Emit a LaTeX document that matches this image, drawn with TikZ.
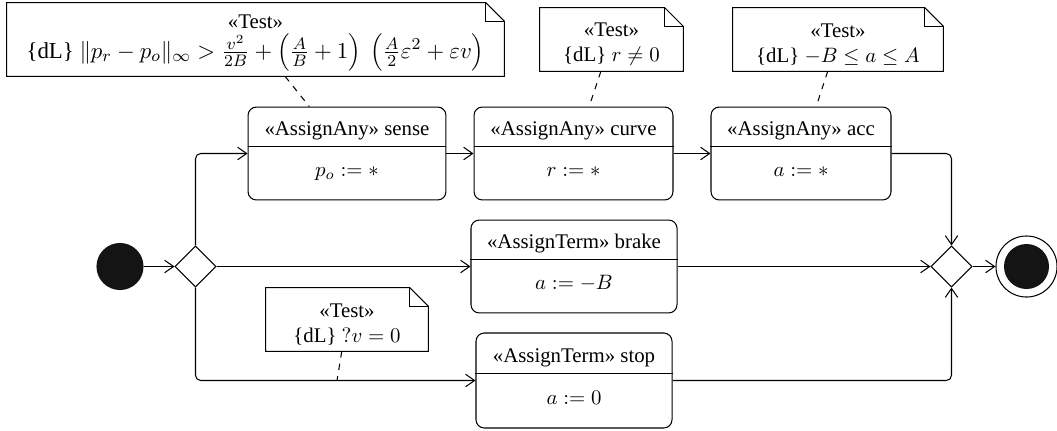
\documentclass[tikz,border=0pt]{standalone}
\usepackage[no-math]{fontspec}
\setmainfont{Liberation Serif}
\usetikzlibrary{shapes.geometric,arrows.meta,calc}
\tikzset{
  thinline/.style={line width=0.5pt},
  arr/.style={thinline, -{Straight Barb[length=4.3pt,width=6pt]}},
  actbox/.style={draw, thinline, rounded corners=4pt, inner sep=0pt},
  notebox/.style={inner sep=0pt},
  notetext/.style={inner sep=0pt, align=center},
  lbl/.style={inner sep=0pt, anchor=base},
  decision/.style={draw, diamond, minimum width=19.7pt, minimum height=19.7pt, inner sep=0pt, thinline},
  initnode/.style={circle, fill=black!92, minimum size=22.6pt, inner sep=0pt},
  finalout/.style={circle, draw, thinline, minimum size=29.3pt, inner sep=0pt},
  finalin/.style={circle, fill=black!92, minimum size=21.6pt, inner sep=0pt},
  conn/.style={dashed, thinline},
  flow/.style={arr, rounded corners=2.5pt},
}
\newcommand\umlnotefold[1]{%
  \draw[thinline] (#1.south west) -- (#1.north west) -- ([xshift=-9pt]#1.north east)
    -- ([yshift=-9pt]#1.north east) -- (#1.south east) -- cycle;
  \draw[thinline] ([xshift=-9pt]#1.north east) |- ([yshift=-9pt]#1.north east);}
\newcommand\umlactlabels[3]{%
  \draw[thinline] ($(#1.north west)!0.43!(#1.south west)$) -- ($(#1.north east)!0.43!(#1.south east)$);
  \node[lbl] (#1-t) at ($(#1.north)!0.31!(#1.south)$) {#2};
  \node[lbl] (#1-b) at ($(#1.north)!0.745!(#1.south)$) {#3};}
\begin{document}
\begin{tikzpicture}[x=0.48pt,y=-0.48pt]
\useasboundingbox (0,0) rectangle (1057,430);

% action boxes
\node[actbox, minimum width=95.0pt, minimum height=44.6pt] (sense) at (347,153.5) {};
\node[actbox, minimum width=95.5pt, minimum height=44.6pt] (curve) at (573.5,153.5) {};
\node[actbox, minimum width=86.4pt, minimum height=44.6pt] (acc) at (801,153.5) {};
\node[actbox, minimum width=98.9pt, minimum height=44.6pt] (brake) at (574,266.5) {};
\node[actbox, minimum width=94.1pt, minimum height=45.6pt] (stop) at (574,380.5) {};
\umlactlabels{sense}{«AssignAny» sense}{$p_o := *$}
\umlactlabels{curve}{«AssignAny» curve}{$r := *$}
\umlactlabels{acc}{«AssignAny» acc}{$a := *$}
\umlactlabels{brake}{«AssignTerm» brake}{$a := -B$}
\umlactlabels{stop}{«AssignTerm» stop}{$a := 0$}

% control nodes
\node[initnode] (init) at (120,266.5) {};
\node[decision] (d1) at (195.5,266.5) {};
\node[decision] (d2) at (951.5,266.5) {};
\node[finalout] (fin) at (1026.5,266.5) {};
\node[finalin] (finin) at (fin) {};

% notes
\node[notebox, minimum width=238.6pt, minimum height=35.0pt] (n1) at (255.5,39.5) {};
\node[notebox, minimum width=68.6pt, minimum height=30.2pt] (n2) at (611.5,39.5) {};
\node[notebox, minimum width=100.8pt, minimum height=30.2pt] (n3) at (838,39.5) {};
\node[notebox, minimum width=77.8pt, minimum height=30.2pt] (n4) at (347,319.5) {};
\node[notetext] (n1-t) at ([yshift=-1.8pt]n1.center)
  {«Test»\\[2pt] {\fontsize{10.95}{13}\selectfont \{dL\} $\|p_r - p_o\|_\infty > \frac{v^2}{2B} + \left(\frac{A}{B}+1\right)\ \left(\frac{A}{2}\varepsilon^2 + \varepsilon v\right)$}};
\node[notetext] (n2-t) at ([yshift=-2.4pt]n2.center) {«Test»\\ \{dL\} $r \neq 0$};
\node[notetext] (n3-t) at ([yshift=-2.4pt]n3.center) {«Test»\\ \{dL\} $-B \leq a \leq A$};
\node[notetext] (n4-t) at ([yshift=-2.4pt]n4.center) {«Test»\\ \{dL\} $?v = 0$};
\umlnotefold{n1}
\umlnotefold{n2}
\umlnotefold{n3}
\umlnotefold{n4}

% flows
\draw[arr] (init) -- (d1);
\draw[flow] (d1.north) |- (sense.west);
\draw[arr] (d1.east) -- (brake.west);
\draw[flow] (d1.south) |- (stop.west);
\draw[arr] (sense) -- (curve);
\draw[arr] (curve) -- (acc);
\draw[flow] (acc.east) -| (d2.north);
\draw[arr] (brake.east) -- (d2.west);
\draw[flow] (stop.east) -| (d2.south);
\draw[arr] (d2.east) -- (fin);

% note anchors
\coordinate (e4) at (337,380.5);
\draw[conn] (n1) -- (sense);
\draw[conn] (n2) -- (curve);
\draw[conn] (n3) -- (acc);
\draw[conn] (n4) -- (e4);
\end{tikzpicture}
\end{document}
